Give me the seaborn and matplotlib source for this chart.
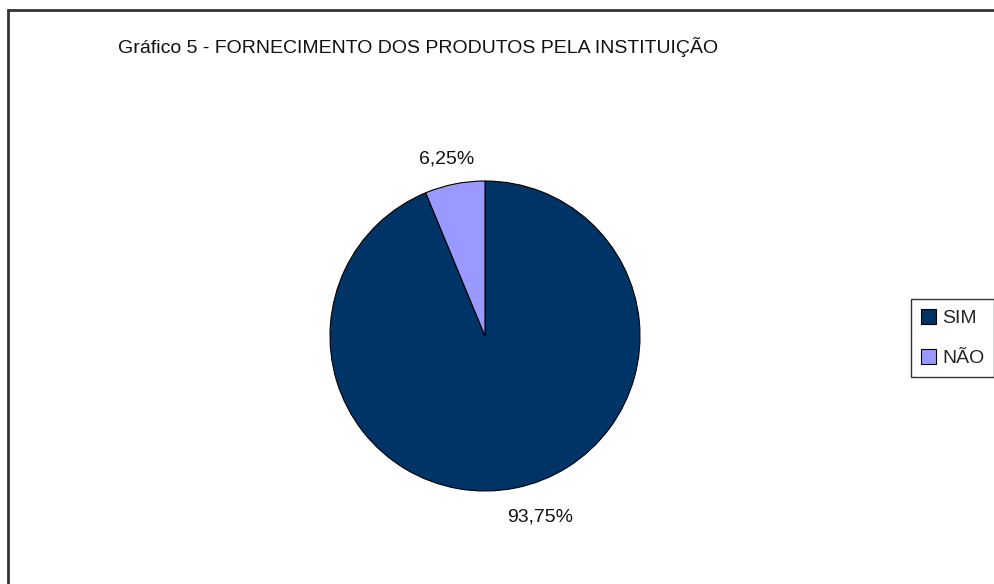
import matplotlib
matplotlib.use("Agg")
import matplotlib.pyplot as plt
import matplotlib.patches as mpatches
from matplotlib.lines import Line2D
import seaborn as sns

categories = ["SIM", "NÃO"]
values = [93.75, 6.25]
value_labels = ["93,75%", "6,25%"]
title = "Gráfico 5 - FORNECIMENTO DOS PRODUTOS PELA INSTITUIÇÃO"

sns.set_theme(style="white")
plt.rcParams['font.family'] = ['Liberation Sans', 'DejaVu Sans']

colors = ["#003366", "#9999FF"]

W, H = 995, 584
fig = plt.figure(figsize=(W / 100, H / 100), dpi=100)
fig.patch.set_facecolor("white")

# outer frame (only top and left edges are visible in the crop)
fl, ft = 8 / W, 1 - 10 / H
fig.add_artist(Line2D([fl, 0.999], [ft, ft], transform=fig.transFigure,
                      color="#333333", linewidth=2, solid_capstyle="butt"))
fig.add_artist(Line2D([fl, fl], [0.001, ft], transform=fig.transFigure,
                      color="#333333", linewidth=2, solid_capstyle="projecting"))

cx, cy, r = 485, 336, 155
ax = fig.add_axes([(cx - r) / W, (H - cy - r) / H, 2 * r / W, 2 * r / H])
wedges, _ = ax.pie(values, colors=colors, startangle=90, counterclock=False,
                   radius=1, wedgeprops=dict(edgecolor="black", linewidth=0.8))
ax.set_xlim(-1, 1)
ax.set_ylim(-1, 1)
ax.axis("off")

label_pos = [(0.355, -1.17), (-0.245, 1.14)]
for (x, y), t in zip(label_pos, value_labels):
    ax.text(x, y, t, ha="center", va="center", fontsize=14, color="#111111",
            clip_on=False)

fig.text(418 / W, 1 - 47 / H, title, ha="center", va="center", fontsize=14,
         color="#111111")

handles = [mpatches.Patch(facecolor=c, edgecolor="black", linewidth=0.8, label=l)
           for c, l in zip(colors, categories)]
leg = ax.legend(handles=handles, loc="upper left",
                bbox_to_anchor=(911 / W, 1 - 299 / H),
                bbox_transform=fig.transFigure, fontsize=14,
                frameon=True, fancybox=False, handlelength=0.8,
                handleheight=0.8, handletextpad=0.3, labelspacing=1.15,
                borderpad=0.5, borderaxespad=0)
leg.get_frame().set_edgecolor("black")
leg.get_frame().set_linewidth(1.0)

fig.savefig("out.png", dpi=100, facecolor="white")
